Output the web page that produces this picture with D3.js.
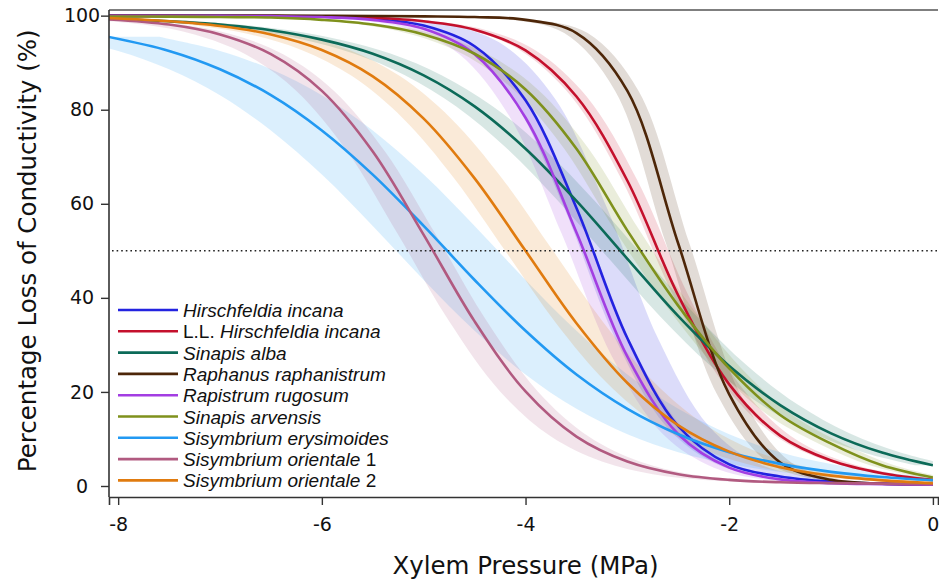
<!DOCTYPE html>
<html>
<head>
<meta charset="utf-8">
<script src="https://cdn.jsdelivr.net/npm/d3@7"></script>
<style>
  body { margin: 0; background: #fff; }
  svg { display: block; }
  .tick text { font-family: "DejaVu Sans", sans-serif; font-size: 19px; fill: #111; }
  .axis-title { font-family: "DejaVu Sans", sans-serif; font-size: 24.5px; fill: #111; }
  .legend text { font-family: "Liberation Sans", Arial, sans-serif; font-size: 19px; fill: #111; }
</style>
</head>
<body>
<svg id="chart" width="939" height="579"></svg>
<script>
// --- data ---
const PRESSURE = [-8.1, -7.5, -7, -6.5, -6, -5.5, -5, -4.5, -4, -3.5, -3, -2.5, -2, -1.5, -1, -0.5, 0];

const hirschfeldia   = [99.95, 99.95, 99.95, 99.9, 99.8, 99.3, 97.9, 93.5, 82.0, 59.1, 31.4, 12.7, 4.6, 2.0, 0.9, 0.5, 0.3];
const llHirschfeldia = [99.95, 99.95, 99.9, 99.9, 99.8, 99.55, 98.8, 97.0, 92.6, 82.8, 64.9, 40.5, 21.6, 10.7, 5.4, 2.7, 1.3];
const sinapisAlba    = [99.35, 98.8, 98.1, 96.9, 94.9, 91.9, 87.3, 80.7, 71.7, 60.6, 48.3, 36.1, 25.5, 17.2, 11.2, 7.1, 4.4];
const raphanus       = [100, 100, 100, 100, 99.97, 99.93, 99.85, 99.7, 99.1, 96.3, 84, 51.5, 19.5, 5.0, 1.3, 0.5, 0.3];
const rapistrum      = [99.95, 99.95, 99.95, 99.9, 99.7, 99.1, 97.2, 91.8, 78.3, 53.9, 27.5, 11.0, 3.9, 1.4, 0.6, 0.4, 0.3];
const sinapisArv     = [99.8, 99.8, 99.7, 99.6, 99.1, 98.1, 96.0, 91.9, 84.3, 71.7, 54.3, 38.3, 25.0, 15.1, 9.0, 4.4, 1.8];
const erysimoides    = [95.5, 92.5, 88.6, 83.1, 75.6, 66.2, 55.3, 43.8, 33.0, 23.7, 16.4, 11.0, 7.2, 4.7, 3.0, 1.9, 1.2];
const orientale1     = [99.2, 98.1, 96.0, 91.8, 84.0, 71.1, 53.4, 35.0, 20.1, 10.5, 5.2, 2.5, 1.3, 0.8, 0.6, 0.5, 0.4];
const orientale2     = [99.5, 98.8, 97.8, 96.0, 92.7, 87.1, 78.1, 65.4, 50, 34.6, 21.9, 12.9, 7.3, 4.0, 2.2, 1.2, 0.6];

// confidence band as a shift of the curve along the pressure axis (MPa)
const BAND_LEFT  = [0.12, 0.05, 0.18, 0.12, 0.15, 0.12, 0.5, 0.25, 0.2];
const BAND_RIGHT = [0.30, 0.10, 0.18, 0.11, 0.10, 0.12, 0.5, 0.12, 0.27];

const SERIES = [hirschfeldia, llHirschfeldia, sinapisAlba, raphanus, rapistrum, sinapisArv, erysimoides, orientale1, orientale2];
// legend label pieces: [prefix (upright), name (italic), suffix (upright)]
const LABELS = [
  ["", "Hirschfeldia incana", ""],
  ["L.L. ", "Hirschfeldia incana", ""],
  ["", "Sinapis alba", ""],
  ["", "Raphanus raphanistrum", ""],
  ["", "Rapistrum rugosum", ""],
  ["", "Sinapis arvensis", ""],
  ["", "Sisymbrium erysimoides", ""],
  ["", "Sisymbrium orientale", " 1"],
  ["", "Sisymbrium orientale", " 2"]
];
const COLORS = ["#2323e0", "#c4102c", "#0c6a58", "#4d2608", "#a33ee2", "#7f911c", "#2299f2", "#b15a80", "#e07b0f"];

const X_TICKS = [-8, -6, -4, -2, 0];
const Y_TICKS = [0, 20, 40, 60, 80, 100];
const P50_LINE = 50;

// --- layout ---
const svg = d3.select("#chart");
const plotLeft = 109, plotRight = 938, plotTop = 10, plotBottom = 497;

const x = d3.scaleLinear().domain([-8.09, 0.05]).range([plotLeft, plotRight]);
const y = d3.scaleLinear().domain([-2.34, 101.2]).range([plotBottom, plotTop]);

svg.append("defs").append("clipPath").attr("id", "plot-clip")
  .append("rect")
  .attr("x", plotLeft).attr("y", plotTop)
  .attr("width", x(0) - plotLeft).attr("height", plotBottom - plotTop);

const plot = svg.append("g").attr("clip-path", "url(#plot-clip)");

// bands
SERIES.forEach((vals, i) => {
  const pts = PRESSURE.map((p, k) => ({ p: p, v: vals[k] }));
  const area = d3.area()
    .x0(d => x(d.p - BAND_LEFT[i]))
    .x1(d => x(d.p + BAND_RIGHT[i]))
    .y(d => y(d.v))
    .curve(d3.curveCatmullRom.alpha(0.5));
  plot.append("path")
    .attr("d", area(pts))
    .attr("fill", COLORS[i])
    .attr("fill-opacity", 0.16)
    .attr("stroke", "none");
});

// 50% dotted reference
svg.append("line")
  .attr("x1", plotLeft + 3).attr("x2", plotRight)
  .attr("y1", y(P50_LINE)).attr("y2", y(P50_LINE))
  .attr("stroke", "#222")
  .attr("stroke-width", 1.6)
  .attr("stroke-dasharray", "1.6,3");

// curves
const line = d3.line()
  .x(d => x(d.p))
  .y(d => y(d.v))
  .curve(d3.curveCatmullRom.alpha(0.5));

SERIES.forEach((vals, i) => {
  const pts = PRESSURE.map((p, k) => ({ p: p, v: vals[k] }));
  plot.append("path")
    .attr("d", line(pts))
    .attr("fill", "none")
    .attr("stroke", COLORS[i])
    .attr("stroke-width", 2.6);
});

// frame: top line, left & bottom axes
svg.append("line")
  .attr("x1", plotLeft).attr("x2", plotRight)
  .attr("y1", plotTop).attr("y2", plotTop)
  .attr("stroke", "#555").attr("stroke-width", 1.5);

const xAxis = svg.append("g")
  .attr("transform", `translate(0,${plotBottom})`)
  .call(d3.axisBottom(x).tickValues(X_TICKS).tickFormat(d => String(d)).tickSize(8).tickPadding(13));
xAxis.select(".domain").attr("stroke", "#333").attr("stroke-width", 1.6);
xAxis.selectAll(".tick line").attr("stroke", "#333").attr("stroke-width", 1.4);

const yAxis = svg.append("g")
  .attr("transform", `translate(${plotLeft},0)`)
  .call(d3.axisLeft(y).tickValues(Y_TICKS).tickSize(8).tickPadding(6));
yAxis.select(".domain").attr("d", `M0,${plotTop}V${plotBottom}`).attr("stroke", "#333").attr("stroke-width", 1.6);
yAxis.selectAll(".tick line").attr("stroke", "#333").attr("stroke-width", 1.4);
yAxis.selectAll(".tick text").attr("text-anchor", "middle").attr("x", -27);

// axis titles
svg.append("text")
  .attr("class", "axis-title")
  .attr("x", x(-4)).attr("y", 574)
  .attr("text-anchor", "middle")
  .text("Xylem Pressure (MPa)");

svg.append("text")
  .attr("class", "axis-title")
  .attr("transform", `translate(36,${y(50)}) rotate(-90)`)
  .attr("text-anchor", "middle")
  .text("Percentage Loss of Conductivity (%)");

// legend
const legend = svg.append("g").attr("class", "legend");
LABELS.forEach((lab, i) => {
  const ly = 310 + i * 21.3;
  legend.append("line")
    .attr("x1", 118).attr("x2", 178)
    .attr("y1", ly).attr("y2", ly)
    .attr("stroke", COLORS[i]).attr("stroke-width", 2.6);
  const t = legend.append("text")
    .attr("x", 183).attr("y", ly)
    .attr("dominant-baseline", "central");
  if (lab[0]) t.append("tspan").text(lab[0]);
  t.append("tspan").attr("font-style", "italic").text(lab[1]);
  if (lab[2]) t.append("tspan").text(lab[2]);
});
</script>
</body>
</html>
